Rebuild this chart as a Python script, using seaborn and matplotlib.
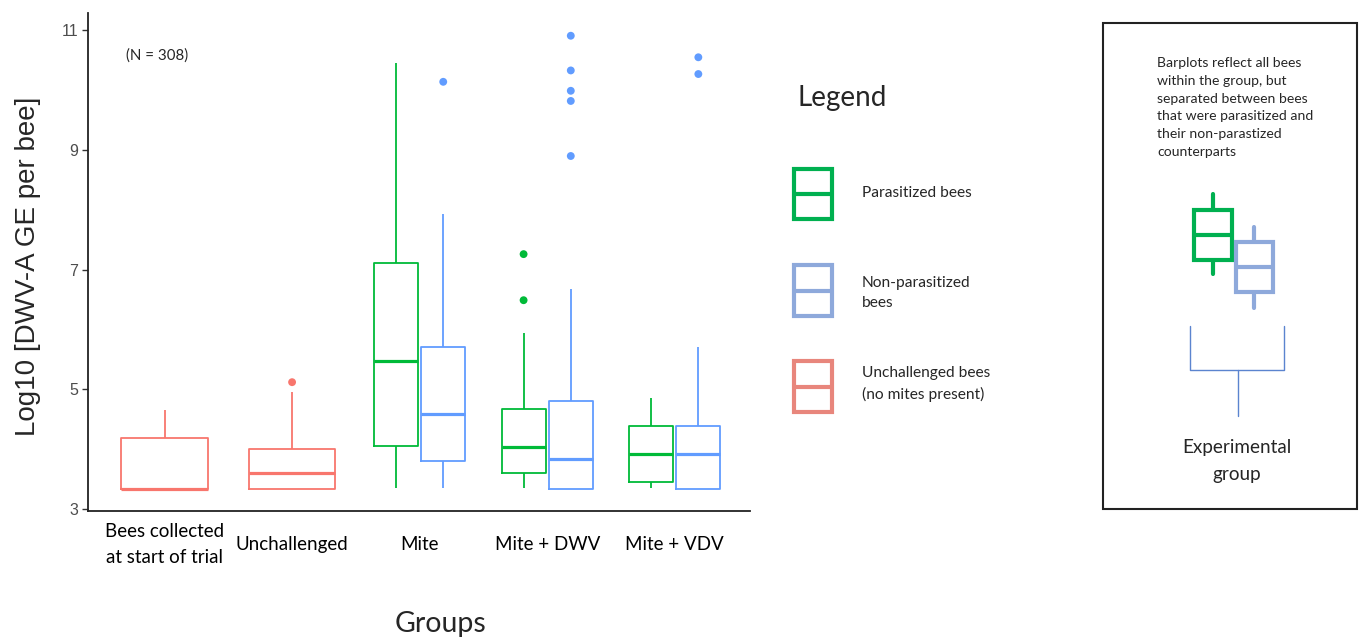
import pandas as pd
import seaborn as sns
import matplotlib.pyplot as plt
from matplotlib.patches import Rectangle

# groups on the x axis
groups = ["Bees collected\nat start of trial", "Unchallenged", "Mite", "Mite + DWV", "Mite + VDV"]

# unchallenged bees (no mites) - five number summaries
ctrl_groups = ["Bees collected\nat start of trial", "Unchallenged"]
ctrl_min = [3.34, 3.34]
ctrl_q1 = [3.34, 3.34]
ctrl_med = [3.34, 3.61]
ctrl_q3 = [4.18, 4.01]
ctrl_max = [4.65, 4.95]
ctrl_out = {"Unchallenged": [5.12]}

# mite groups, parasitized bees
mite_groups = ["Mite", "Mite + DWV", "Mite + VDV"]
par_min = [3.35, 3.35, 3.35]
par_q1 = [4.05, 3.60, 3.45]
par_med = [5.47, 4.04, 3.92]
par_q3 = [7.12, 4.68, 4.39]
par_max = [10.45, 5.95, 4.86]
par_out = {"Mite + DWV": [7.26, 6.49]}

# mite groups, non-parasitized bees
non_min = [3.35, 3.34, 3.34]
non_q1 = [3.81, 3.34, 3.34]
non_med = [4.59, 3.84, 3.92]
non_q3 = [5.70, 4.80, 4.39]
non_max = [7.93, 6.67, 5.70]
non_out = {"Mite": [10.14],
           "Mite + DWV": [10.91, 10.33, 9.99, 9.82, 8.90],
           "Mite + VDV": [10.55, 10.27]}

kinds = ["Parasitized bees", "Non-parasitized bees"]
red, green, blue = "#F8766D", "#00BA38", "#619CFF"


def five_num(grps, mins, q1s, meds, q3s, maxs, kind):
    # five values per box -> quartiles come out exactly as given
    rows = []
    for g, a, b, c, d, e in zip(grps, mins, q1s, meds, q3s, maxs):
        for v in (a, b, c, d, e):
            rows.append({"group": g, "value": v, "kind": kind})
    return rows


ctrl_df = pd.DataFrame(five_num(ctrl_groups, ctrl_min, ctrl_q1, ctrl_med, ctrl_q3, ctrl_max, "Unchallenged bees"))
mite_df = pd.DataFrame(five_num(mite_groups, par_min, par_q1, par_med, par_q3, par_max, kinds[0])
                       + five_num(mite_groups, non_min, non_q1, non_med, non_q3, non_max, kinds[1]))

box_w = 0.74
half = box_w / 4
fl_rows = []
for g, vals in ctrl_out.items():
    fl_rows += [{"pos": groups.index(g), "value": v, "kind": "Unchallenged bees"} for v in vals]
for g, vals in par_out.items():
    fl_rows += [{"pos": groups.index(g) - half, "value": v, "kind": kinds[0]} for v in vals]
for g, vals in non_out.items():
    fl_rows += [{"pos": groups.index(g) + half, "value": v, "kind": kinds[1]} for v in vals]
fl_df = pd.DataFrame(fl_rows)

sns.set_style("ticks")
plt.rcParams["font.family"] = ["Liberation Sans", "DejaVu Sans"]

fig = plt.figure(figsize=(13.59, 6.38), dpi=100)
ax = fig.add_axes([88 / 1359, 1 - 511 / 638, 662 / 1359, 498 / 638])

common = dict(fill=False, whis=(0, 100), linewidth=1.3, showcaps=False,
              medianprops=dict(linewidth=2.3), order=groups, ax=ax)
sns.boxplot(data=ctrl_df, x="group", y="value", color=red, width=0.68, **common)
sns.boxplot(data=mite_df, x="group", y="value", hue="kind", hue_order=kinds,
            palette=[green, blue], width=box_w, gap=0.07, legend=False, **common)
sns.scatterplot(data=fl_df, x="pos", y="value", hue="kind",
                palette={"Unchallenged bees": red, kinds[0]: green, kinds[1]: blue},
                s=32, linewidth=0, legend=False, zorder=3, ax=ax)

ax.set_xlim(-0.6, 4.59)
ax.set_ylim(2.967, 11.29)
ax.set_yticks([3, 5, 7, 9, 11])
ax.set_xticks(range(len(groups)))
ax.set_xticklabels(groups, fontfamily="Lato", fontsize=13.5, va="center", color="black")
for lab in ax.get_xticklabels():
    lab.set_linespacing(1.6)
ax.tick_params(axis="x", length=0, pad=24)
ax.tick_params(axis="y", length=4, width=1, color="#333333", labelsize=11.5,
               labelcolor="#4D4D4D", pad=3)
ax.set_xlabel("")
ax.set_ylabel("")
for s in ["left", "bottom"]:
    ax.spines[s].set_color("#222222")
    ax.spines[s].set_linewidth(1.3)
sns.despine(ax=ax)

ax.text(0.104, 0.914, "(N = 308)", transform=ax.transAxes, ha="center", va="center",
        fontfamily="Lato", fontsize=10.8)

fig.text(28 / 1359, 1 - 266 / 638, "Log10 [DWV-A GE per bee]", rotation=90,
         ha="center", va="center", fontsize=20)
fig.text(440 / 1359, 1 - 624 / 638, "Groups", ha="center", va="center",
         fontfamily="Lato", fontsize=20.5)

# overlay in pixel coordinates for the legend and the explanation panel
ov = fig.add_axes([0, 0, 1, 1], facecolor="none")
ov.set_xlim(0, 1359)
ov.set_ylim(638, 0)
ov.axis("off")

ov.text(842, 98, "Legend", ha="center", va="center", fontfamily="Lato", fontsize=20)
leg_items = [("#00B050", 169, 50, "Parasitized bees", 193),
             ("#8EA9DB", 265, 51, "Non-parasitized\nbees", 293),
             ("#E8867C", 361, 51, "Unchallenged bees\n(no mites present)", 384)]
for col, top, h, lab, ty in leg_items:
    ov.add_patch(Rectangle((794, top), 38, h, fill=False, edgecolor=col, linewidth=3))
    ov.plot([794, 832], [top + h / 2, top + h / 2], color=col, linewidth=3)
    ov.text(862, ty, lab, ha="left", va="center", fontfamily="Lato", fontsize=11.2,
            linespacing=1.5)

# explanation panel
ov.add_patch(Rectangle((1103, 23), 254, 486, fill=False, edgecolor="#222222", linewidth=1.5))
ov.text(1157, 107.5, "Barplots reflect all bees\nwithin the group, but\nseparated between bees\n"
        "that were parasitized and\ntheir non-parastized\ncounterparts",
        ha="left", va="center", fontfamily="Lato", fontsize=10.1, linespacing=1.58)

pg, pb = "#00B050", "#8EA9DB"
ov.plot([1213, 1213], [194, 274], color=pg, linewidth=3, zorder=1)
ov.add_patch(Rectangle((1194, 210), 38, 50, facecolor="white", edgecolor=pg, linewidth=3, zorder=2))
ov.plot([1194, 1232], [235, 235], color=pg, linewidth=3, zorder=3)
ov.plot([1254, 1254], [227, 308], color=pb, linewidth=3, zorder=1)
ov.add_patch(Rectangle((1236, 242), 37, 50, facecolor="white", edgecolor=pb, linewidth=3, zorder=2))
ov.plot([1236, 1273], [267, 267], color=pb, linewidth=3, zorder=3)

bc = "#5B84CF"
ov.plot([1190, 1190, 1284, 1284], [326, 370, 370, 326], color=bc, linewidth=1)
ov.plot([1238, 1238], [370, 416], color=bc, linewidth=1)
ov.text(1237, 461, "Experimental\ngroup", ha="center", va="center", fontfamily="Lato",
        fontsize=13.6, linespacing=1.65)

fig.savefig("out.png", dpi=100)
